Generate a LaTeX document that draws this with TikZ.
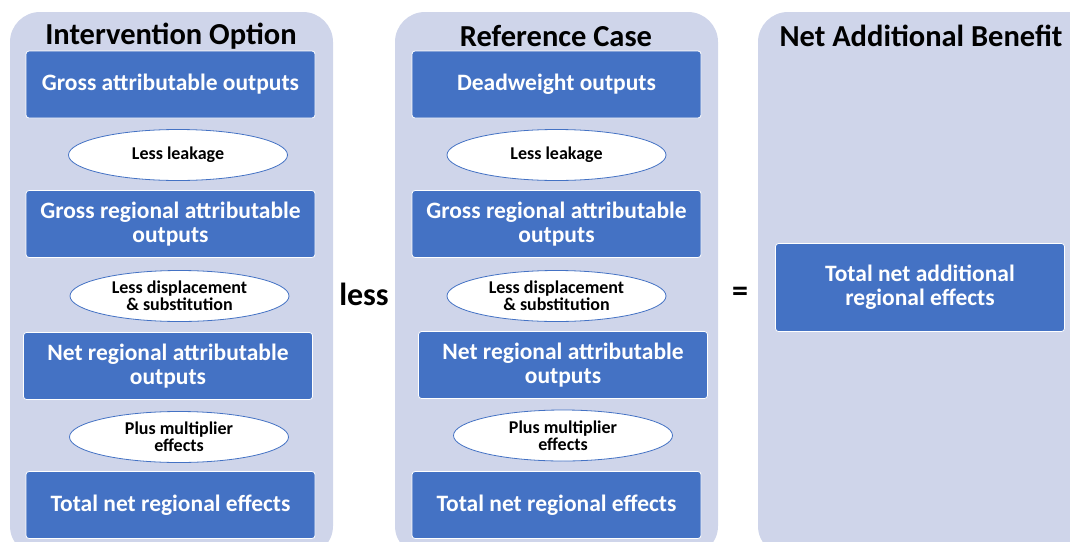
\documentclass[tikz,border=0pt]{standalone}
\usepackage{fontspec}
\setmainfont{Carlito}
\usetikzlibrary{shapes.geometric}
\definecolor{panelbg}{HTML}{CFD5EA}
\definecolor{boxblue}{HTML}{4472C4}

\begin{document}
\begin{tikzpicture}[x=1pt,y=-1pt,
  panel/.style={fill=panelbg,rounded corners=30pt},
  outbox/.style={draw=white,line width=0.8pt,fill=boxblue,rounded corners=3pt,
    text=white,minimum width=289pt,minimum height=67pt,inner sep=0pt,
    align=center,font=\bfseries\fontsize{23.5}{24}\selectfont},
  adjust/.style={ellipse,draw=boxblue,line width=0.8pt,fill=white,
    minimum width=219pt,minimum height=51pt,inner sep=0pt,
    align=center,font=\bfseries\fontsize{18}{17}\selectfont},
  heading/.style={font=\bfseries\fontsize{30.5}{32}\selectfont},
  sign/.style={font=\bfseries\fontsize{32}{34}\selectfont}]
\useasboundingbox (0,0) rectangle (1070,541);
% panels
\fill[panel] (10,12) rectangle (333,556);
\fill[panel] (395,12) rectangle (718,556);
\fill[panel] (758,12) rectangle (1110,556);
\node[heading] (h1) at (171,36) {Intervention Option};
\node[heading] (h2) at (556,36) {Reference Case};
\node[heading] (h3) at (921,36) {Net Additional Benefit};
% intervention option
\node[outbox] (io1) at (170.5,84.5) {Gross attributable outputs};
\node[adjust] (il1) at (178,155) {Less leakage};
\node[outbox] (io2) at (170.5,224) {Gross regional attributable\\outputs};
\node[adjust] (il2) at (179.5,296) {Less displacement\\\& substitution};
\node[outbox] (io3) at (168,366) {Net regional attributable\\outputs};
\node[adjust] (il3) at (179,437) {Plus multiplier\\effects};
\node[outbox] (io4) at (170.5,505) {Total net regional effects};
% reference case
\node[outbox] (rc1) at (556.5,84.5) {Deadweight outputs};
\node[adjust] (rl1) at (556.5,155) {Less leakage};
\node[outbox] (rc2) at (556.5,224) {Gross regional attributable\\outputs};
\node[adjust] (rl2) at (556.5,296) {Less displacement\\\& substitution};
\node[outbox] (rc3) at (563,365) {Net regional attributable\\outputs};
\node[adjust] (rl3) at (563,435.5) {Plus multiplier\\effects};
\node[outbox] (rc4) at (556.5,505) {Total net regional effects};
% net additional benefit
\node[outbox,minimum height=88pt] (nb1) at (920,287.5) {Total net additional\\regional effects};
\node[sign] (less) at (364,294) {less};
\node[sign] (eq) at (740,294) {=};
\end{tikzpicture}
\end{document}
